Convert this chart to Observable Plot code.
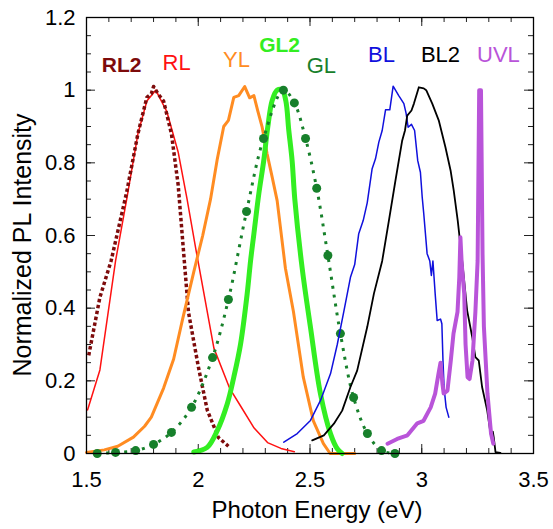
<!DOCTYPE html>
<html><head><meta charset="utf-8">
<script src="https://cdn.jsdelivr.net/npm/d3@7"></script>
<script src="https://cdn.jsdelivr.net/npm/@observablehq/plot@0.6"></script>
<style>body{margin:0;background:#fff} #chart svg{display:block}</style>
</head><body><div id="chart"></div>
<script>
// Series: [photon energy (eV), normalized PL intensity]
const RL2 = [[1.51,0.27],[1.56,0.43],[1.61,0.53],[1.68,0.72],[1.73,0.88],[1.77,0.98],[1.79,0.99],[1.80,1.01],[1.82,0.99],[1.845,0.97],[1.88,0.88],[1.91,0.74],[1.935,0.55],[1.956,0.39],[2.0,0.24],[2.04,0.12],[2.09,0.044],[2.135,0.02]];
const RL = [[1.505,0.12],[1.51,0.13],[1.56,0.23],[1.63,0.53],[1.68,0.70],[1.73,0.88],[1.77,0.97],[1.81,1.0],[1.86,0.94],[1.91,0.83],[1.95,0.70],[1.99,0.56],[2.07,0.29],[2.14,0.18],[2.19,0.13],[2.25,0.07],[2.31,0.03],[2.37,0.014],[2.43,0.005]];
const YL = [[1.5,0.003],[1.58,0.01],[1.64,0.02],[1.71,0.045],[1.76,0.075],[1.79,0.1],[1.845,0.18],[1.89,0.26],[1.93,0.37],[1.98,0.5],[2.02,0.6],[2.055,0.70],[2.085,0.81],[2.114,0.90],[2.135,0.917],[2.159,0.98],[2.181,0.985],[2.208,1.01],[2.23,0.979],[2.249,0.985],[2.266,0.944],[2.286,0.898],[2.308,0.825],[2.331,0.76],[2.353,0.696],[2.39,0.51],[2.426,0.39],[2.47,0.21],[2.515,0.09],[2.56,0.027],[2.59,0.0],[2.70,0.0]];
const GL2 = [[1.98,0.004],[2.04,0.017],[2.085,0.063],[2.13,0.137],[2.159,0.21],[2.189,0.30],[2.219,0.44],[2.234,0.53],[2.249,0.605],[2.271,0.715],[2.293,0.806],[2.311,0.898],[2.331,0.972],[2.353,1.0],[2.376,1.0],[2.392,0.97],[2.405,0.89],[2.42,0.806],[2.432,0.70],[2.465,0.51],[2.502,0.348],[2.547,0.164],[2.592,0.054],[2.622,0.013],[2.644,0.0]];
const GL = [[1.548,0.0],[1.63,0.003],[1.72,0.008],[1.80,0.025],[1.88,0.058],[1.97,0.127],[2.064,0.264],[2.135,0.424],[2.216,0.666],[2.292,0.867],[2.381,1.0],[2.43,0.965],[2.48,0.867],[2.53,0.73],[2.58,0.545],[2.636,0.33],[2.695,0.154],[2.757,0.055],[2.82,0.008],[2.88,0.0]];
const BL = [[2.383,0.031],[2.443,0.055],[2.502,0.091],[2.547,0.146],[2.592,0.22],[2.622,0.30],[2.651,0.39],[2.681,0.485],[2.70,0.52],[2.718,0.605],[2.738,0.641],[2.756,0.69],[2.778,0.784],[2.793,0.811],[2.808,0.857],[2.823,0.889],[2.838,0.946],[2.857,0.946],[2.872,1.011],[2.897,0.985],[2.92,0.963],[2.93,0.936],[2.939,0.898],[2.954,0.906],[2.968,0.889],[2.982,0.806],[2.994,0.774],[3.002,0.706],[3.009,0.66],[3.024,0.55],[3.036,0.53],[3.043,0.49],[3.05,0.53],[3.06,0.44],[3.069,0.366],[3.084,0.37],[3.09,0.357],[3.095,0.256],[3.10,0.18],[3.109,0.127],[3.121,0.1]];
const BL2 = [[2.51,0.036],[2.562,0.05],[2.607,0.082],[2.644,0.118],[2.681,0.183],[2.711,0.228],[2.756,0.348],[2.786,0.44],[2.823,0.53],[2.853,0.641],[2.882,0.75],[2.912,0.86],[2.925,0.889],[2.935,0.93],[2.954,0.944],[2.965,0.963],[2.987,1.008],[3.009,1.005],[3.02,1.0],[3.047,0.963],[3.076,0.917],[3.106,0.843],[3.129,0.779],[3.143,0.724],[3.161,0.641],[3.181,0.53],[3.203,0.394],[3.226,0.32],[3.24,0.265],[3.255,0.256],[3.27,0.183],[3.293,0.118],[3.308,0.054],[3.318,0.06],[3.322,0.045],[3.33,0.004],[3.352,0.002]];
const UVL = [[2.847,0.027],[2.89,0.04],[2.936,0.05],[2.98,0.083],[3.008,0.09],[3.04,0.127],[3.06,0.165],[3.075,0.22],[3.084,0.25],[3.093,0.19],[3.098,0.165],[3.115,0.173],[3.13,0.256],[3.142,0.33],[3.16,0.39],[3.168,0.485],[3.173,0.595],[3.179,0.52],[3.19,0.44],[3.196,0.30],[3.205,0.21],[3.214,0.205],[3.227,0.256],[3.24,0.39],[3.25,0.53],[3.257,1.0],[3.265,1.0],[3.272,0.55],[3.278,0.35],[3.294,0.165],[3.31,0.055],[3.32,0.027]];

// Axis ticks and labels
const xMajor = [1.5, 2, 2.5, 3, 3.5];
const xTickLabels = ["1.5", "2", "2.5", "3", "3.5"];
const yMajor = [0, 0.2, 0.4, 0.6, 0.8, 1, 1.2];
const yTickLabels = ["0", "0.2", "0.4", "0.6", "0.8", "1", "1.2"];
const xMinor = d3.range(15, 36).map(v => v / 10);
const yMinor = d3.range(0, 25).map(v => v / 20);
const xTitle = "Photon Energy (eV)";
const yTitle = "Normalized PL Intensity";

// Series labels (name, annotation anchor in data units)
const seriesNames = ["RL2", "RL", "YL", "GL2", "GL", "BL", "BL2", "UVL"];
const labelE = [1.657, 1.903, 2.171, 2.364, 2.551, 2.82, 3.084, 3.343];
const labelI = [1.068, 1.075, 1.083, 1.124, 1.068, 1.098, 1.098, 1.098];

const colors = {RL2:"#7d0b0b", RL:"#ff1111", YL:"#ff8c22", GL2:"#33ee22", GL:"#17802b", BL:"#1010dd", BL2:"#000000", UVL:"#b954d9"};
const boldNames = ["RL2", "GL2"];

const W = 553, H = 529, mL = 86, mR = 20, mT = 17, mB = 76;
const iW = W - mL - mR, iH = H - mT - mB;
const X = d => d[0], Y = d => d[1];
const font = "'Liberation Sans', Arial, Helvetica, sans-serif";

const labelData = seriesNames.map((n, i) => ({n, e: labelE[i], v: labelI[i]}));

const chart = Plot.plot({
  width: W, height: H,
  marginLeft: mL, marginRight: mR, marginTop: mT, marginBottom: mB,
  x: {domain: [1.5, 3.5], axis: null},
  y: {domain: [0, 1.2], axis: null},
  style: {fontFamily: font, background: "#fff", overflow: "visible"},
  marks: [
    // ticks (inside)
    Plot.tickX(xMinor, {x: d => d, insetTop: iH - 5, stroke: "#222", strokeWidth: 1}),
    Plot.tickX(xMinor, {x: d => d, insetBottom: iH - 5, stroke: "#222", strokeWidth: 1}),
    Plot.tickX(xMajor, {x: d => d, insetTop: iH - 9, stroke: "#222", strokeWidth: 1}),
    Plot.tickX(xMajor, {x: d => d, insetBottom: iH - 9, stroke: "#222", strokeWidth: 1}),
    Plot.tickY(yMinor, {y: d => d, insetRight: iW - 5, stroke: "#222", strokeWidth: 1}),
    Plot.tickY(yMinor, {y: d => d, insetLeft: iW - 5, stroke: "#222", strokeWidth: 1}),
    Plot.tickY(yMajor, {y: d => d, insetRight: iW - 9, stroke: "#222", strokeWidth: 1}),
    Plot.tickY(yMajor, {y: d => d, insetLeft: iW - 9, stroke: "#222", strokeWidth: 1}),
    // series
    Plot.line(RL, {x: X, y: Y, stroke: colors.RL, strokeWidth: 1.5}),
    Plot.line(RL2, {x: X, y: Y, stroke: colors.RL2, strokeWidth: 3.5, strokeDasharray: "3.5,2.5", strokeLinecap: "butt"}),
    Plot.line(YL, {x: X, y: Y, stroke: colors.YL, strokeWidth: 3}),
    Plot.line(GL2, {x: X, y: Y, stroke: colors.GL2, strokeWidth: 5, curve: "catmull-rom"}),
    Plot.line(GL, {x: X, y: Y, stroke: colors.GL, strokeWidth: 3, strokeDasharray: "3,6", strokeLinecap: "butt", curve: "catmull-rom"}),
    Plot.dot(GL, {x: X, y: Y, r: 4.5, fill: colors.GL, stroke: null}),
    Plot.line(BL, {x: X, y: Y, stroke: colors.BL, strokeWidth: 1.5}),
    Plot.line(BL2, {x: X, y: Y, stroke: colors.BL2, strokeWidth: 1.8}),
    Plot.line(UVL, {x: X, y: Y, stroke: colors.UVL, strokeWidth: 4}),
    // frame
    Plot.frame({stroke: "#000", strokeWidth: 1.3}),
    // tick labels
    Plot.text(xMajor, {x: d => d, text: (d, i) => xTickLabels[i], frameAnchor: "bottom", textAnchor: "middle", lineAnchor: "middle", dy: 26, fontSize: 22, fill: "#000"}),
    Plot.text(yMajor, {y: d => d, text: (d, i) => yTickLabels[i], frameAnchor: "left", textAnchor: "end", lineAnchor: "middle", dx: -11, fontSize: 22, fill: "#000"}),
    // axis titles
    Plot.text([xTitle], {text: d => d, frameAnchor: "bottom", textAnchor: "middle", lineAnchor: "middle", dx: 7, dy: 57, fontSize: 24, fill: "#000"}),
    Plot.text([yTitle], {text: d => d, frameAnchor: "left", textAnchor: "middle", lineAnchor: "middle", rotate: -90, dx: -63.5, dy: 9.5, fontSize: 25, fill: "#000"}),
    // series labels
    Plot.text(labelData.filter(d => !boldNames.includes(d.n)), {x: "e", y: "v", text: "n", fill: d => colors[d.n], fontSize: 22, lineAnchor: "middle"}),
    Plot.text(labelData.filter(d => boldNames.includes(d.n)), {x: "e", y: "v", text: "n", fill: d => colors[d.n], fontSize: 21, fontWeight: "bold", lineAnchor: "middle"})
  ]
});
document.getElementById("chart").append(chart);
</script>
</body></html>
